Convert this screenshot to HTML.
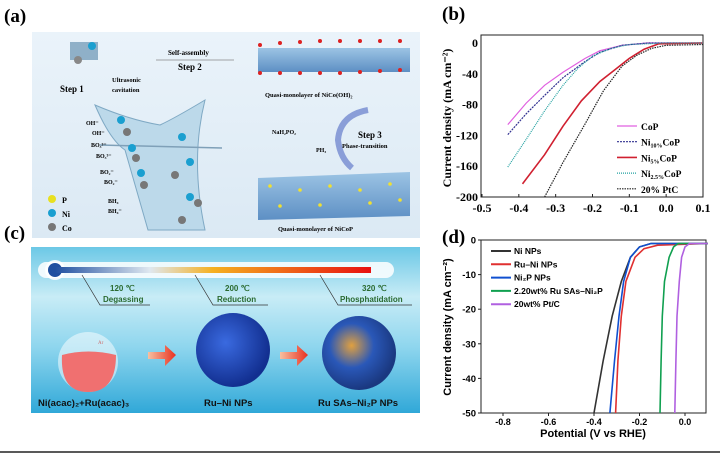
<!DOCTYPE html>
<html><head><meta charset="utf-8"><style>
body{margin:0;background:#fff;width:720px;height:453px;overflow:hidden;font-family:"Liberation Serif",serif}
svg{display:block}
</style></head><body>
<svg id="s" width="720" height="453" viewBox="0 0 720 453" xmlns="http://www.w3.org/2000/svg">
<defs>
<linearGradient id="abg" x1="0" y1="0" x2="0" y2="1"><stop offset="0" stop-color="#eaf3fa"/><stop offset="1" stop-color="#dbe9f4"/></linearGradient>
<linearGradient id="cbg" x1="0" y1="0" x2="0" y2="1"><stop offset="0" stop-color="#6cc8e6"/><stop offset="0.3" stop-color="#c8ecf6"/><stop offset="0.6" stop-color="#8fd6ee"/><stop offset="1" stop-color="#30a8d8"/></linearGradient>
<linearGradient id="therm" x1="0" y1="0" x2="1" y2="0"><stop offset="0" stop-color="#1f4fa0"/><stop offset="0.3" stop-color="#dfe8f0"/><stop offset="0.5" stop-color="#f5b020"/><stop offset="1" stop-color="#e81010"/></linearGradient>
<linearGradient id="arr" x1="0" y1="0" x2="1" y2="0"><stop offset="0" stop-color="#f8c0a0"/><stop offset="1" stop-color="#e83020"/></linearGradient>
<radialGradient id="ball1" cx="0.4" cy="0.4" r="0.6"><stop offset="0" stop-color="#3a6ae0"/><stop offset="1" stop-color="#122f90"/></radialGradient>
<radialGradient id="ball2" cx="0.4" cy="0.4" r="0.6"><stop offset="0" stop-color="#e0a040"/><stop offset="0.5" stop-color="#2a58b8"/><stop offset="1" stop-color="#1a3880"/></radialGradient>
<linearGradient id="layer" x1="0" y1="0" x2="0" y2="1"><stop offset="0" stop-color="#9cc4e4"/><stop offset="1" stop-color="#5d8fc4"/></linearGradient>
</defs>

<!-- Panel a -->
<g>
<text x="4" y="22" font-size="19" font-weight="bold">(a)</text>
<rect x="32" y="32" width="388" height="206" fill="url(#abg)"/>
<text x="60" y="92" font-size="9" font-weight="bold">Step 1</text>
<text x="112" y="82" font-size="6.5" font-weight="bold">Ultrasonic</text>
<text x="112" y="92" font-size="6.5" font-weight="bold">cavitation</text>
<text x="168" y="55" font-size="7" font-weight="bold">Self-assembly</text>
<line x1="156" y1="60" x2="234" y2="60" stroke="#888" stroke-width="0.7"/>
<text x="178" y="70" font-size="9" font-weight="bold">Step 2</text>
<rect x="70" y="42" width="28" height="18" fill="#8fb0c8"/>
<circle cx="78" cy="60" r="4" fill="#888"/><circle cx="92" cy="46" r="4" fill="#1a9fd0"/>
<polygon points="258,48 410,48 410,72 258,72" fill="url(#layer)"/>
<g fill="#d22">
<circle cx="260" cy="45" r="2"/><circle cx="280" cy="43" r="2"/><circle cx="300" cy="42" r="2"/><circle cx="320" cy="41" r="2"/><circle cx="340" cy="41" r="2"/><circle cx="360" cy="41" r="2"/><circle cx="380" cy="41" r="2"/><circle cx="400" cy="41" r="2"/>
<circle cx="260" cy="73" r="2"/><circle cx="280" cy="73" r="2"/><circle cx="300" cy="73" r="2"/><circle cx="320" cy="73" r="2"/><circle cx="340" cy="73" r="2"/><circle cx="360" cy="72" r="2"/><circle cx="380" cy="71" r="2"/><circle cx="400" cy="70" r="2"/></g>
<text x="265" y="97" font-size="6.5" font-weight="bold">Quasi-monolayer of NiCo(OH)₂</text>
<path d="M368,110 Q340,115 338,140 Q340,158 352,168" fill="none" stroke="#8a9ed8" stroke-width="6"/>
<text x="358" y="138" font-size="9" font-weight="bold">Step 3</text>
<text x="342" y="148" font-size="6.5" font-weight="bold">Phase-transition</text>
<text x="272" y="134" font-size="6" font-weight="bold">NaH₂PO₂</text>
<text x="316" y="152" font-size="6" font-weight="bold">PH₃</text>
<polygon points="258,178 410,172 410,216 258,220" fill="url(#layer)"/>
<g fill="#f0e030"><circle cx="270" cy="186" r="1.8"/><circle cx="300" cy="190" r="1.8"/><circle cx="330" cy="186" r="1.8"/><circle cx="360" cy="190" r="1.8"/><circle cx="390" cy="184" r="1.8"/><circle cx="280" cy="206" r="1.8"/><circle cx="320" cy="205" r="1.8"/><circle cx="370" cy="203" r="1.8"/><circle cx="400" cy="200" r="1.8"/></g>
<text x="278" y="231" font-size="6.5" font-weight="bold">Quasi-monolayer of NiCoP</text>
<path d="M95,105 Q110,140 125,150 L148,230 L205,230 Q190,160 205,100 Q175,118 160,125 Q130,120 95,105Z" fill="#bcd9ea" stroke="#7fa9c4" stroke-width="1"/>
<line x1="100" y1="145" x2="222" y2="148" stroke="#7fa0b8" stroke-width="1.5"/>
<g font-size="6" font-weight="bold"><text x="86" y="125">OH⁻</text><text x="92" y="135">OH⁻</text><text x="91" y="147">BO₃³⁻</text><text x="96" y="158">BO₃³⁻</text><text x="100" y="174">BO₂⁻</text><text x="104" y="184">BO₂⁻</text><text x="108" y="203">BH₄</text><text x="108" y="213">BH₄⁻</text></g>
<g fill="#1a9fd0"><circle cx="121" cy="120" r="4"/><circle cx="132" cy="148" r="4"/><circle cx="182" cy="137" r="4"/><circle cx="190" cy="162" r="4"/><circle cx="141" cy="173" r="4"/><circle cx="190" cy="197" r="4"/></g>
<g fill="#777"><circle cx="127" cy="132" r="4"/><circle cx="136" cy="158" r="4"/><circle cx="144" cy="185" r="4"/><circle cx="175" cy="175" r="4"/><circle cx="198" cy="203" r="4"/><circle cx="182" cy="220" r="4"/></g>
<circle cx="52" cy="199" r="4" fill="#e8e020"/><text x="62" y="203" font-size="8" font-weight="bold">P</text>
<circle cx="52" cy="213" r="4" fill="#1a9fd0"/><text x="62" y="217" font-size="8" font-weight="bold">Ni</text>
<circle cx="52" cy="227" r="4" fill="#777"/><text x="62" y="231" font-size="8" font-weight="bold">Co</text>
</g>

<!-- Panel c -->
<g>
<text x="4" y="239" font-size="19" font-weight="bold">(c)</text>
<rect x="31" y="247" width="389" height="166" fill="url(#cbg)"/>
<rect x="38" y="262" width="356" height="16" rx="8" fill="#fff" opacity="0.85"/>
<circle cx="55" cy="270" r="10" fill="#fff" opacity="0.85"/>
<circle cx="55" cy="270" r="7" fill="#1f4fa0"/>
<rect x="55" y="267" width="316" height="6" fill="url(#therm)"/>
<g stroke="#333" stroke-width="0.7" fill="none"><path d="M82,275 L100,305 L150,305"/><path d="M195,275 L213,305 L268,305"/><path d="M320,275 L338,305 L412,305"/></g>
<g font-family="Liberation Sans,sans-serif" font-weight="bold" fill="#2a6a30" font-size="8">
<text x="110" y="291">120 ℃</text><text x="103" y="302">Degassing</text>
<text x="225" y="291">200 ℃</text><text x="217" y="302">Reduction</text>
<text x="362" y="291">320 ℃</text><text x="340" y="302">Phosphatidation</text></g>
<circle cx="88" cy="362" r="30" fill="#fff" opacity="0.5"/>
<path d="M62,355 Q88,348 116,355 Q116,392 88,392 Q60,392 62,355Z" fill="#f07070"/>
<text x="98" y="344" font-size="5" fill="#c66">Ar</text>
<polygon points="148,352 165,352 165,345 176,355 165,366 165,359 148,359" fill="url(#arr)"/>
<polygon points="280,352 297,352 297,345 308,355 297,366 297,359 280,359" fill="url(#arr)"/>
<circle cx="233" cy="350" r="37" fill="url(#ball1)"/>
<circle cx="359" cy="353" r="37" fill="url(#ball2)"/>
<g font-family="Liberation Sans,sans-serif" font-weight="bold" fill="#111" font-size="9.5">
<text x="38" y="406">Ni(acac)₂+Ru(acac)₃</text>
<text x="204" y="406">Ru–Ni NPs</text>
<text x="318" y="406">Ru SAs–Ni₂P NPs</text></g>
</g>
<line x1="0" y1="452" x2="720" y2="452" stroke="#222" stroke-width="1.5"/>

<!-- Chart b -->
<g id="cb" font-family="Liberation Serif,serif" font-weight="bold">
<text x="442" y="20" font-size="19">(b)</text>
<rect x="481" y="35" width="222" height="162" fill="none" stroke="#222" stroke-width="1"/>
<text transform="translate(451,118) rotate(-90)" text-anchor="middle" font-size="12">Current density (mA cm⁻²)</text>
</g>
<!-- Chart d -->
<g id="cd" font-family="Liberation Sans,sans-serif" font-weight="bold">
<text x="442" y="243" font-size="19" font-family="Liberation Serif,serif">(d)</text>
<rect x="481" y="240" width="225" height="173" fill="none" stroke="#222" stroke-width="1"/>
<text transform="translate(451,327) rotate(-90)" text-anchor="middle" font-size="11">Current density (mA cm⁻²)</text>
<text x="593" y="437" text-anchor="middle" font-size="11">Potential (V vs RHE)</text>
</g>
</svg>
<script>
const NS="http://www.w3.org/2000/svg";
// Chart b data
const bXTicks=[-0.5,-0.4,-0.3,-0.2,-0.1,0.0,0.1];
const bYTicks=[0,-40,-80,-120,-160,-200];
const bNames=["CoP","Ni10%CoP","Ni5%CoP","Ni2.5%CoP","20% PtC"];
const bCoP=[[-0.43,-106],[-0.38,-78],[-0.33,-55],[-0.28,-38],[-0.22,-20],[-0.18,-10],[-0.12,-3],[-0.05,0],[0.1,0]];
const bNi10=[[-0.43,-119],[-0.38,-92],[-0.33,-68],[-0.28,-45],[-0.22,-24],[-0.18,-12],[-0.12,-3],[-0.05,0],[0.1,0]];
const bNi5=[[-0.39,-183],[-0.33,-145],[-0.28,-108],[-0.23,-75],[-0.18,-50],[-0.14,-35],[-0.1,-20],[-0.06,-8],[-0.02,-1],[0.1,0]];
const bNi25=[[-0.43,-161],[-0.38,-125],[-0.33,-88],[-0.28,-55],[-0.24,-33],[-0.2,-17],[-0.15,-7],[-0.1,-2],[0,0],[0.1,0]];
const bPtC=[[-0.33,-200],[-0.28,-155],[-0.22,-105],[-0.17,-62],[-0.12,-30],[-0.08,-16],[-0.04,-7],[0,-3],[0.1,-2]];
// Chart d data
const dXTicks=[-0.8,-0.6,-0.4,-0.2,0.0];
const dYTicks=[0,-10,-20,-30,-40,-50];
const dNames=["Ni NPs","Ru–Ni NPs","Ni₂P NPs","2.20wt% Ru SAs–Ni₂P","20wt% Pt/C"];
const dNi=[[-0.40,-50],[-0.36,-35],[-0.32,-22],[-0.28,-12],[-0.24,-5],[-0.2,-2],[-0.15,-1],[0.1,-1]];
const dRuNi=[[-0.305,-50],[-0.295,-35],[-0.28,-22],[-0.26,-12],[-0.22,-5],[-0.18,-2.5],[-0.12,-1.5],[0.1,-1]];
const dNi2P=[[-0.33,-50],[-0.31,-35],[-0.29,-22],[-0.27,-12],[-0.24,-5],[-0.2,-2],[-0.15,-1],[0.1,-1]];
const dRuSA=[[-0.11,-50],[-0.105,-35],[-0.1,-22],[-0.09,-12],[-0.07,-5],[-0.05,-2],[-0.03,-1],[0.1,-1]];
const dPt=[[-0.045,-50],[-0.04,-35],[-0.035,-22],[-0.025,-12],[-0.015,-5],[0,-2],[0.02,-1],[0.1,-1]];

function mk(tag,attrs,parent){const e=document.createElementNS(NS,tag);for(const k in attrs)e.setAttribute(k,attrs[k]);parent.appendChild(e);return e;}
const bx=v=>482+(v+0.5)*368.3, by=v=>43+(-v)*0.77;
const dx=v=>685+v*227.5, dy=v=>240+(-v)*3.46;
const gb=document.getElementById('cb'), gd=document.getElementById('cd');

bXTicks.forEach(t=>{const l=mk('line',{x1:bx(t),x2:bx(t),y1:197,y2:194,stroke:'#222'},gb);


const tx=mk('text',{x:bx(t),y:212,'text-anchor':'middle','font-size':12},gb);tx.textContent=t.toFixed(1);

});
bYTicks.forEach(t=>{const tx=mk('text',{x:478,y:by(t)+4,'text-anchor':'end','font-size':12},gb);tx.textContent=t;

});
const bSeries=[[bCoP,'#e060e0',''],[bNi10,'#303090','2,1'],[bNi5,'#d02030',''],[bNi25,'#20a0a0','1,1'],[bPtC,'#222','1.5,1']];
bSeries.forEach((s,i)=>{const p=mk('path',{d:'M'+s[0].map(q=>bx(q[0]).toFixed(1)+','+by(q[1]).toFixed(1)).join('L'),fill:'none',stroke:s[1],'stroke-width':i==2?1.6:1.2,'stroke-dasharray':s[2]},gb);


const ly=126+i*15.7;mk('line',{x1:617,x2:637,y1:ly,y2:ly,stroke:s[1],'stroke-width':i==2?1.6:1.2,'stroke-dasharray':s[2]},gb);
const tx=mk('text',{x:641,y:ly+4,'font-size':9.5},gb);
const m=bNames[i].match(/^Ni([\d.]+%)(CoP)$/);
if(m){const a=mk('tspan',{},tx);a.textContent='Ni';const b=mk('tspan',{'font-size':6,dy:2},tx);b.textContent=m[1];const c=mk('tspan',{dy:-2},tx);c.textContent=m[2];}
else tx.textContent=bNames[i];

});

dXTicks.forEach(t=>{mk('line',{x1:dx(t),x2:dx(t),y1:413,y2:416,stroke:'#222'},gd);
const tx=mk('text',{x:dx(t),y:425,'text-anchor':'middle','font-size':9},gd);tx.textContent=t.toFixed(1);

});
dYTicks.forEach(t=>{mk('line',{x1:478,x2:481,y1:dy(t),y2:dy(t),stroke:'#222'},gd);
const tx=mk('text',{x:476,y:dy(t)+3.5,'text-anchor':'end','font-size':9.5},gd);tx.textContent=t;

});
const dSeries=[[dNi,'#333'],[dRuNi,'#e03030'],[dNi2P,'#1050d0'],[dRuSA,'#10a050'],[dPt,'#b060e0']];
dSeries.forEach((s,i)=>{const p=mk('path',{d:'M'+s[0].map(q=>dx(q[0]).toFixed(1)+','+dy(q[1]).toFixed(1)).join('L'),fill:'none',stroke:s[1],'stroke-width':1.6},gd);


const ly=251+i*13.3;mk('line',{x1:491,x2:511,y1:ly,y2:ly,stroke:s[1],'stroke-width':2},gd);
const tx=mk('text',{x:514,y:ly+3,'font-size':8.5},gd);tx.textContent=dNames[i];

});
</script>
</body></html>
